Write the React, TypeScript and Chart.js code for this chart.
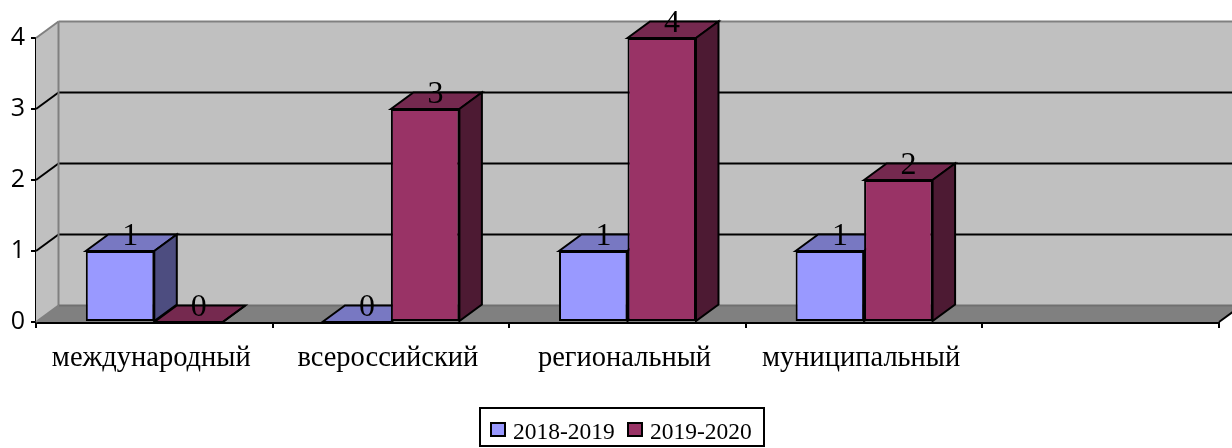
import React, { useEffect, useRef } from "react";
import { Chart, registerables } from "chart.js";

Chart.register(...registerables);

const categories = ["международный", "всероссийский", "региональный", "муниципальный", ""];
const series2018 = [1, 0, 1, 1, null];
const series2019 = [0, 3, 4, 2, null];
const seriesNames = ["2018-2019", "2019-2020"];
const yTicks = [0, 1, 2, 3, 4];

const frontColors = ["#9999FF", "#993366"];
const topColors = ["#7878C2", "#75294F"];
const sideColors = ["#4D4D80", "#4D1A33"];
const WALL = "#C0C0C0";
const FLOOR = "#808080";
const EDGE = "#808080";
const DX = 22.5;
const DY = -16.5;
const SERIF = '"Liberation Serif", serif';

function poly(ctx: CanvasRenderingContext2D, pts: number[][], fill: string | null, stroke: string | null, lw = 2) {
  ctx.beginPath();
  pts.forEach((p, i) => (i ? ctx.lineTo(p[0], p[1]) : ctx.moveTo(p[0], p[1])));
  ctx.closePath();
  if (fill) {
    ctx.fillStyle = fill;
    ctx.fill();
  }
  if (stroke) {
    ctx.strokeStyle = stroke;
    ctx.lineWidth = lw;
    ctx.lineJoin = "miter";
    ctx.stroke();
  }
}

function seg(ctx: CanvasRenderingContext2D, x1: number, y1: number, x2: number, y2: number, color: string, lw = 2) {
  ctx.beginPath();
  ctx.moveTo(x1, y1);
  ctx.lineTo(x2, y2);
  ctx.strokeStyle = color;
  ctx.lineWidth = lw;
  ctx.stroke();
}

const walls3d = {
  id: "walls3d",
  beforeDatasetsDraw(chart: any) {
    const { ctx, chartArea: a, scales } = chart;
    const y = scales.y;
    ctx.save();
    const y0 = a.bottom;
    const yT = a.top;
    const backR = a.right + DX;
    poly(ctx, [[a.left + DX, yT + DY], [backR, yT + DY], [backR, y0 + DY], [a.left + DX, y0 + DY]], WALL, null);
    poly(ctx, [[a.left, y0], [a.left + DX, y0 + DY], [a.left + DX, yT + DY], [a.left, yT]], WALL, null);
    poly(ctx, [[a.left, y0], [a.left + DX, y0 + DY], [backR, y0 + DY], [a.right, y0]], FLOOR, null);
    yTicks.forEach((v) => {
      if (v === 0 || v === 4) return;
      const py = y.getPixelForValue(v);
      seg(ctx, a.left, py, a.left + DX, py + DY, "#000");
      seg(ctx, a.left + DX, py + DY, backR, py + DY, "#000");
    });
    seg(ctx, a.left + DX, yT + DY, backR, yT + DY, EDGE);
    seg(ctx, a.left, yT, a.left + DX, yT + DY, EDGE);
    seg(ctx, a.left + DX, yT + DY, a.left + DX, y0 + DY, EDGE);
    seg(ctx, a.left + DX, y0 + DY, backR, y0 + DY, "#707070");
    seg(ctx, a.left, y0, a.left + DX, y0 + DY, EDGE);
    seg(ctx, a.right, y0, a.right + DX, y0 + DY, "#000");

    chart.data.datasets.forEach((ds: any, d: number) => {
      chart.getDatasetMeta(d).data.forEach((bar: any, i: number) => {
        if (ds.data[i] == null) return;
        const l = bar.x - bar.width / 2;
        const r = bar.x + bar.width / 2;
        const t = bar.y;
        const b = bar.base;
        poly(ctx, [[l, t], [l + DX, t + DY], [r + DX, t + DY], [r, t]], topColors[d], "#000");
        poly(ctx, [[r, t], [r + DX, t + DY], [r + DX, b + DY], [r, b]], sideColors[d], "#000");
      });
    });
    ctx.restore();
  },
  afterDatasetsDraw(chart: any) {
    const { ctx } = chart;
    ctx.save();
    ctx.fillStyle = "#000";
    ctx.textAlign = "center";
    ctx.textBaseline = "alphabetic";
    ctx.font = `32px ${SERIF}`;
    chart.data.datasets.forEach((ds: any, d: number) => {
      chart.getDatasetMeta(d).data.forEach((bar: any, i: number) => {
        if (ds.data[i] == null) return;
        ctx.fillText(String(ds.data[i]), bar.x + DX / 2 - 1, bar.y - 6);
      });
    });
    ctx.restore();
  },
  afterDraw(chart: any) {
    const { ctx } = chart;
    ctx.save();
    ctx.strokeStyle = "#000";
    ctx.lineWidth = 2;
    ctx.strokeRect(480, 408, 284, 38);
    ctx.font = `23.5px ${SERIF}`;
    ctx.textBaseline = "alphabetic";
    ctx.textAlign = "left";
    const boxX = [491, 628];
    chart.data.datasets.forEach((ds: any, d: number) => {
      ctx.fillStyle = frontColors[d];
      ctx.fillRect(boxX[d], 423, 14, 13);
      ctx.strokeStyle = "#000";
      ctx.lineWidth = 2;
      ctx.strokeRect(boxX[d], 423, 14, 13);
      ctx.fillStyle = "#000";
      ctx.fillText(ds.label, boxX[d] + 22, 439);
    });
    ctx.restore();
  },
};

export default function App() {
  const ref = useRef<HTMLCanvasElement>(null);
  useEffect(() => {
    const chart = new Chart(ref.current as HTMLCanvasElement, {
      type: "bar",
      data: {
        labels: categories,
        datasets: [
          {
            label: seriesNames[0],
            data: series2018,
            backgroundColor: frontColors[0],
            borderColor: "#000",
            borderWidth: 2,
            borderSkipped: false,
            clip: false,
          },
          {
            label: seriesNames[1],
            data: series2019,
            backgroundColor: frontColors[1],
            borderColor: "#000",
            borderWidth: 2,
            borderSkipped: false,
            clip: false,
          },
        ] as any,
      },
      plugins: [walls3d],
      options: {
        responsive: false,
        animation: false,
        datasets: { bar: { categoryPercentage: 0.579, barPercentage: 1 } },
        layout: { padding: { top: 38, right: 13, left: 0, bottom: 0 } },
        plugins: { legend: { display: false }, tooltip: { enabled: false }, title: { display: false } },
        scales: {
          x: {
            grid: { drawOnChartArea: false, color: "#000", tickLength: 6, lineWidth: 2, offset: true },
            border: { color: "#000", width: 3 },
            afterFit: (s: any) => {
              s.height = 126;
            },
            ticks: {
              autoSkip: false,
              maxRotation: 0,
              minRotation: 0,
              padding: 13,
              labelOffset: -3,
              color: "#000",
              font: { family: SERIF, size: 28.5 },
            },
          },
          y: {
            min: 0,
            max: 4,
            grid: { drawOnChartArea: false, color: "#000", tickLength: 5, lineWidth: 2 },
            border: { color: "#000", width: 2 },
            afterFit: (s: any) => {
              s.width = 36;
            },
            ticks: {
              stepSize: 1,
              padding: 6,
              color: "#000",
              font: { family: '"Open Sans", sans-serif', size: 25 },
            },
          },
        },
      } as any,
    });
    return () => chart.destroy();
  }, []);
  return (
    <div style={{ position: "absolute", left: 0, top: 0, width: 1232, height: 448, overflow: "hidden", background: "#fff" }}>
      <canvas ref={ref} width={1232} height={448} style={{ display: "block" }} />
    </div>
  );
}
